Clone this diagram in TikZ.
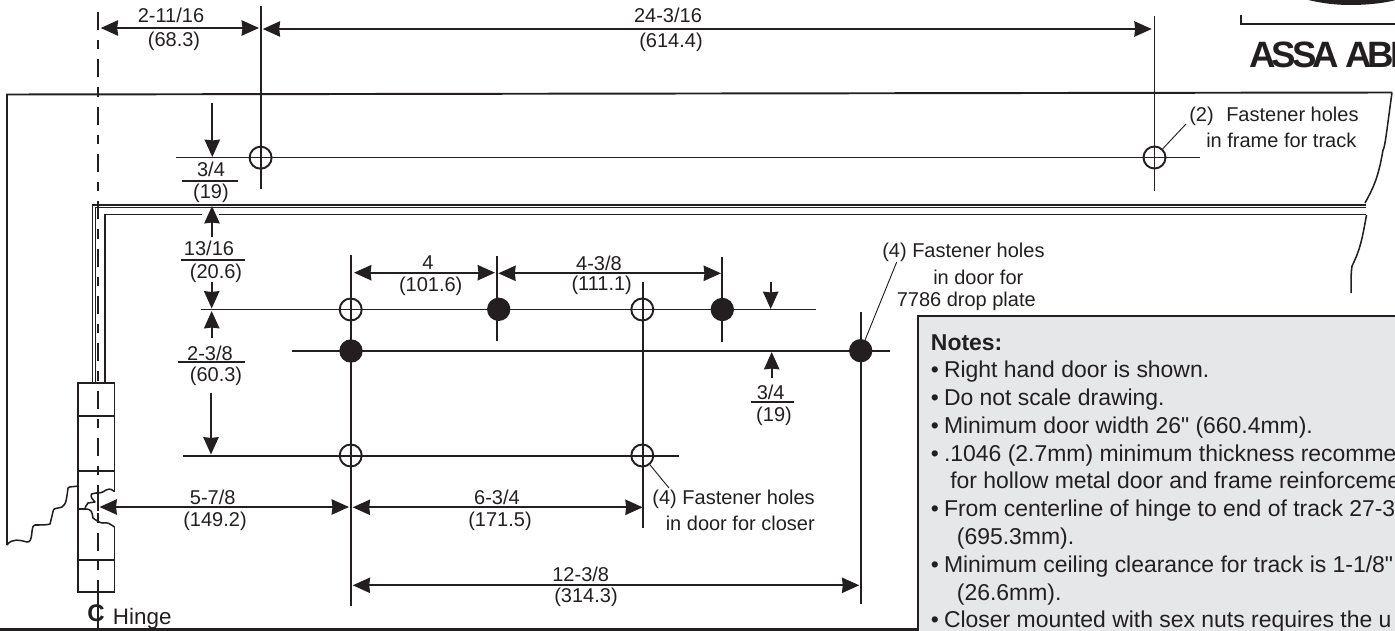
\documentclass[tikz,border=0pt]{standalone}
\usepackage{fontspec}
\setmainfont{Liberation Sans}
\newfontfamily\rawfont{Liberation Sans}
\newfontfamily\logofont[LetterSpace=-11]{Liberation Sans}
\usetikzlibrary{arrows.meta}
\definecolor{ink}{HTML}{231F20}
\definecolor{panel}{HTML}{E6E7E8}
\tikzset{
  ln/.style={draw=ink,line width=1.45pt},
  thin ln/.style={draw=ink,line width=0.7pt},
  brk/.style={draw=ink,line width=1.15pt,line join=round},
  dim/.style={ln,{Stealth[length=13pt,width=11.5pt,inset=0.6pt]}-{Stealth[length=13pt,width=11.5pt,inset=0.6pt]}},
  onetip/.style={ln,-{Stealth[length=13pt,width=11.5pt,inset=0.6pt]}},
  lbl/.style={text=ink,inner sep=0pt,font=\fontsize{15}{18}\selectfont},
  note/.style={text=ink,inner sep=0pt,anchor=base west,font=\fontsize{17.2}{20}\selectfont},
  open/.style={circle,draw=ink,line width=1.45pt,minimum size=16.5pt,inner sep=0pt},
  solid hole/.style={circle,fill=ink,minimum size=17.5pt,inner sep=0pt},
  rulebar/.style={draw=ink,line width=1.2pt}
}
\begin{document}
\begin{tikzpicture}[x=0.75pt,y=-0.75pt]
\useasboundingbox (0,0) rectangle (1395,631);
\clip (0,0) rectangle (1395,631);
% logo fragment
\fill[ink] (1301,-2) .. controls (1318,3) and (1335,5) .. (1350,5) .. controls (1368,5) and (1385,3) .. (1396,0) -- (1396,-2) -- cycle;
\draw[ln] (1241,15) -- (1241,24) -- (1396,24);
\node[inner sep=0pt,anchor=base west,text=ink,font=\logofont\bfseries\fontsize{27.5}{30}\selectfont] (logo) at (1249,68) {ASSA ABI};
% bottom band
\fill[ink] (0,628.3) rectangle (918,631);
% frame
\draw[ln] (7,545) -- (7,94.5) -- (1392,92.5);
\draw[brk] (1392,92.5) .. controls (1387,128) and (1385,148) .. (1383,150) .. controls (1378,180) and (1372,190) .. (1365,203);
\draw[brk] (7,545) .. controls (12,538) and (20,540) .. (27,542) .. controls (34,543) and (30,525) .. (35,525) .. controls (40,525) and (48,525) .. (50,524) .. controls (55,505) and (52,510) .. (58,508) .. controls (65,507) and (66,505) .. (68,488) .. controls (70,486) and (74,487) .. (78,486);
\draw[ln] (92.5,382) -- (92.5,205) -- (1366,205);
\draw[thin ln] (95,382) -- (95,207) -- (1366,207);
\draw[ln] (105,382) -- (105,214.5) -- (201.7,214.5);
\draw[ln] (219.3,214.5) -- (1366,214.5);
\draw[brk] (1366.5,215) .. controls (1362,240) and (1360,250) .. (1352,266) .. controls (1351,272) and (1351,280) .. (1351,293);
% hinge
\draw[ln] (114.5,491.5) -- (114.5,383) -- (78,383) -- (78,592) -- (114.5,592) -- (114.5,527);
\draw[ln] (78,415.7) -- (114.5,415.7) (78,471.3) -- (114.5,471.3) (78,560) -- (114.5,560);
\draw[brk] (114.5,491.5) .. controls (110,488) and (108,489) .. (106,490) .. controls (102,493) and (100,493) .. (96,493) -- (91.5,494) .. controls (90,497) and (93,500) .. (95,502) -- (88,503) .. controls (86,505) and (85,508) .. (85,509) -- (78,509);
\draw[brk] (85,509) .. controls (92,509) and (92,512) .. (93,518) .. controls (97,521) and (100,523) .. (103,523) .. controls (108,522) and (110,524) .. (114.5,527);
\draw[ln] (97.7,492) -- (97.7,511);
% centre line
\draw[draw=ink,line width=1.45pt,dash pattern=on 13.5pt off 7.5pt on 7pt off 7.5pt] (98,12) -- (98,592);
\draw[ln] (98,592) -- (98,631);
\node[text=ink,inner sep=0pt,font=\bfseries\fontsize{18}{20}\selectfont] (clmark) at (96,613.5) {C};
\node[text=ink,inner sep=0pt,anchor=base west,font=\fontsize{16.8}{20}\selectfont] (hinge) at (112.7,624.3) {Hinge};
% top dimensions
\draw[dim] (100.7,28) -- (259,28);
\node[lbl] (a1) at (171,15) {2-11/16};
\node[lbl] (a2) at (174,41) {(68.3)};
\draw[ln] (260.6,6) -- (260.6,189);
\draw[dim] (262.7,29) -- (1151.7,29);
\node[lbl] (b1) at (668,15) {24-3/16};
\node[lbl] (b2) at (671,42) {(614.4)};
\draw[ln] (1154.5,16) -- (1154.5,191);
\draw[ln] (176,157.5) -- (1200,157.5);
\node[open] (f1) at (260.6,157.7) {};
\node[open] (f2) at (1154.5,157.5) {};
\draw[thin ln] (f2) -- (1186,124);
\node[lbl,anchor=west] (t1) at (1189,116) {(2)\hspace{0.35em} Fastener holes};
\node[lbl,anchor=west] (t2) at (1206,140) {in frame for track};
% left stacked dimensions
\draw[onetip] (212.3,103) -- (212.3,157);
\node[lbl] (c1) at (211,169) {3/4};
\draw[rulebar] (182,181) -- (238,181);
\node[lbl] (c2) at (211,193) {(19)};
\draw[onetip] (212,237) -- (212,206);
\node[lbl] (d1) at (209,248) {13/16};
\draw[rulebar] (181,260) -- (245,260);
\node[lbl] (d2) at (216,273) {(20.6)};
\draw[onetip] (211.7,282) -- (211.7,308.5);
\draw[onetip] (211.7,338) -- (211.7,311);
\node[lbl] (e1) at (210,353) {2-3/8};
\draw[rulebar] (178,362) -- (245,362);
\node[lbl] (e2) at (216,376) {(60.3)};
\draw[onetip] (211,393) -- (211,454.5);
% hole lines
\draw[ln] (200.7,309.5) -- (815.7,309.5);
\draw[ln] (292,351.2) -- (890,351.2);
\draw[ln] (182.7,455.7) -- (679,455.7);
\draw[ln] (350.7,255) -- (350.7,605.7);
\draw[ln] (497.3,256) -- (497.3,340.7);
\draw[ln] (642.7,281.7) -- (642.7,528);
\draw[ln] (721.7,257) -- (721.7,341.7);
\draw[ln] (861,311.7) -- (861,604);
\node[open] (h1) at (350.7,309.5) {};
\node[open] (h2) at (642.3,309.5) {};
\node[open] (h3) at (350.7,455.5) {};
\node[open] (h4) at (642.3,455.5) {};
\node[solid hole] (s1) at (351,351) {};
\node[solid hole] (s2) at (498.7,309.3) {};
\node[solid hole] (s3) at (722.3,309.5) {};
\node[solid hole] (s4) at (860.7,350.7) {};
% middle dimensions
\draw[dim] (354,272.7) -- (495,272.7);
\node[lbl] (g1) at (428,263) {4};
\node[lbl] (g2) at (430.7,286) {(101.6)};
\draw[dim] (498.3,273.3) -- (721,273.3);
\node[lbl] (i1) at (599,263) {4-3/8};
\node[lbl] (i2) at (601.7,285.7) {(111.1)};
\draw[onetip] (770.7,281.7) -- (770.7,309);
\draw[onetip] (771.7,378) -- (771.7,352);
\node[lbl] (j1) at (770.7,392) {3/4};
\draw[rulebar] (750.7,401.7) -- (794,401.7);
\node[lbl] (j2) at (774,416) {(19)};
\coordinate (lead4) at (896.7,262);
\draw[thin ln] (s4) -- (lead4);
\node[lbl,anchor=west] (k1) at (882,252) {(4) Fastener holes};
\node[lbl,anchor=west] (k2) at (933,277) {in door for};
\node[lbl,anchor=west] (k3) at (896.5,301) {7786 drop plate};
% lower dimensions
\draw[dim] (99.5,507) -- (349,507);
\node[lbl] (m1) at (212.7,497) {5-7/8};
\node[lbl] (m2) at (215,521) {(149.2)};
\draw[dim] (352.7,507.3) -- (642.7,507.3);
\node[lbl] (n1) at (497,497) {6-3/4};
\node[lbl] (n2) at (500,521) {(171.5)};
\draw[dim] (352.7,585.3) -- (859.3,585.3);
\node[lbl] (o1) at (580.7,574) {12-3/8};
\node[lbl] (o2) at (586,597) {(314.3)};
\coordinate (lead5) at (669,488);
\draw[thin ln] (h4) -- (lead5);
\node[lbl,anchor=east] (p1) at (815,499) {(4) Fastener holes};
\node[lbl,anchor=east] (p2) at (815,523) {in door for closer};
% notes panel
\draw[draw=ink,line width=1.45pt,fill=panel] (918,632) -- (918,316) -- (1397,316) -- (1397,632);
\node[note,font=\bfseries\fontsize{17.2}{20}\selectfont] (q0) at (930.7,350) {Notes:};
\node[note] (q1) at (930.7,377.7) {•\hspace{0.22em}Right hand door is shown.};
\node[note] (q2) at (930.7,405.3) {•\hspace{0.22em}Do not scale drawing.};
\node[note] (q3) at (930.7,433.3) {•\hspace{0.22em}Minimum door width 26{\rawfont"} (660.4mm).};
\node[note] (q4) at (930.7,461) {•\hspace{0.22em}.1046 (2.7mm) minimum thickness recomme};
\node[note] (q5) at (950,488.7) {for hollow metal door and frame reinforceme};
\node[note] (q6) at (930.7,516.7) {•\hspace{0.22em}From centerline of hinge to end of track 27-3};
\node[note] (q7) at (956.7,544.3) {(695.3mm).};
\node[note] (q8) at (930.7,572) {•\hspace{0.22em}Minimum ceiling clearance for track is 1-1/8{\rawfont"}};
\node[note] (q9) at (956.7,600) {(26.6mm).};
\node[note] (q10) at (930.7,627.7) {•\hspace{0.22em}Closer mounted with sex nuts requires the u};
\end{tikzpicture}
\end{document}
